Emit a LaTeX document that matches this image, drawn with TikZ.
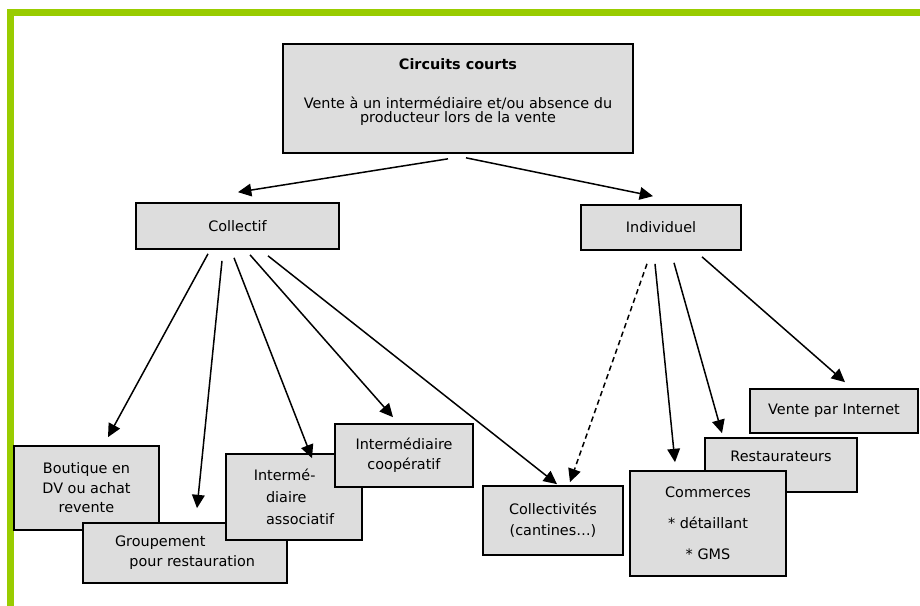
\documentclass[tikz,border=0pt]{standalone}
\usepackage{fontspec}
\setmainfont{DejaVu Sans}
\usetikzlibrary{arrows.meta}
\definecolor{boxgray}{HTML}{DDDDDD}
\definecolor{framegreen}{HTML}{99CC00}

\begin{document}
\begin{tikzpicture}
	[x=0.3mm, y=-0.3mm, font=\fontsize{12.3}{14.6}\selectfont, inner sep=0pt,
	box/.style		= {rectangle, draw, fill=boxgray, line width=0.5mm, align=center},
	paths/.style	= {->, >={Triangle[length=4mm, width=3.8mm]}, line width=0.45mm},
	dashpath/.style	= {paths, dash pattern=on 1.6mm off 1.1mm}]
	
	\useasboundingbox (0, 0) rectangle (920, 606);
	\fill [framegreen] (7, 9) rectangle (920, 16);
	\fill [framegreen] (7, 9) rectangle (14, 606);
	
	\node at (458, 98.5)	[box, minimum width=105mm, minimum height=32.7mm]	(circ)	{};
	\node at (458, 58)		[anchor=north, align=center]	(circtxt)	{\textbf{Circuits courts}\\[19pt]Vente à un intermédiaire et/ou absence du\\[-3pt]producteur lors de la vente};
	
	\node at (237.5, 226)	[box, minimum width=60.9mm, minimum height=13.8mm]	(coll)	{Collectif};
	\node at (661, 227.5)	[box, minimum width=48mm, minimum height=13.5mm]	(indi)	{Individuel};
	
	\node at (86.5, 488)	[box, minimum width=43.5mm, minimum height=25.2mm]	(bout)	{Boutique en\\[2pt]DV ou achat\\[2pt]revente};
	\node at (185, 553)		[box, align=left, minimum width=61.2mm, minimum height=18mm]	(grp)	{Groupement\\[2.6pt]\hspace*{1em}pour restauration};
	\node at (294, 497)		[box, align=left, minimum width=40.8mm, minimum height=25.8mm]	(asso)	{Intermé-\\[4pt]\hspace*{.85em}diaire\\[4pt]\hspace*{.85em}associatif};
	\node at (404, 455.5)	[box, minimum width=41.4mm, minimum height=18.9mm]	(coop)	{Intermédiaire\\[2.6pt]coopératif};
	\node at (553, 520.5)	[box, minimum width=42mm, minimum height=20.7mm]	(ctvt)	{Collectivités\\[3.3pt](cantines…)};
	
	\node at (834, 411)		[box, minimum width=50.4mm, minimum height=13.2mm]	(vint)	{Vente par Internet};
	\node at (781, 465)		[box, minimum width=45.6mm, minimum height=16.2mm, text depth=5mm]	(rest)	{Restaurateurs};
	\node at (708, 523.5)	[box, minimum width=46.8mm, minimum height=31.5mm]	(comm)	{Commerces\\[12pt]* détaillant\\[12pt]* GMS};
	
	\draw [paths] ([shift={(-10,5)}]circ.south) -- ([shift={(0.5,-10)}]coll.north);
	\draw [paths] ([shift={(8,4)}]circ.south) -- ([shift={(-8,-8)}]indi.north);
	
	\draw [paths] ([shift={(-29.5,4)}]coll.south) -- ([shift={(21.5,-8)}]bout.north);
	\draw [paths] ([shift={(-15.5,11)}]coll.south) -- ([shift={(12,-14)}]grp.north);
	\draw [paths] ([shift={(-3.5,8)}]coll.south) -- ([shift={(18,5)}]asso.north);
	\draw [paths] ([shift={(12.5,5)}]coll.south) -- ([shift={(-11,-6)}]coop.north);
	\draw [paths] ([shift={(30.5,6)}]coll.south) -- ([shift={(4,-1)}]ctvt.north);
	
	\draw [dashpath] ([shift={(-14,13)}]indi.south) -- ([shift={(17,-3)}]ctvt.north);
	\draw [paths] ([shift={(-6,13)}]indi.south) -- ([shift={(-33,-8)}]comm.north);
	\draw [paths] ([shift={(13,12)}]indi.south) -- ([shift={(-59,-4)}]rest.north);
	\draw [paths] ([shift={(41,6)}]indi.south) -- ([shift={(11,-6)}]vint.north);
\end{tikzpicture}
\end{document}
